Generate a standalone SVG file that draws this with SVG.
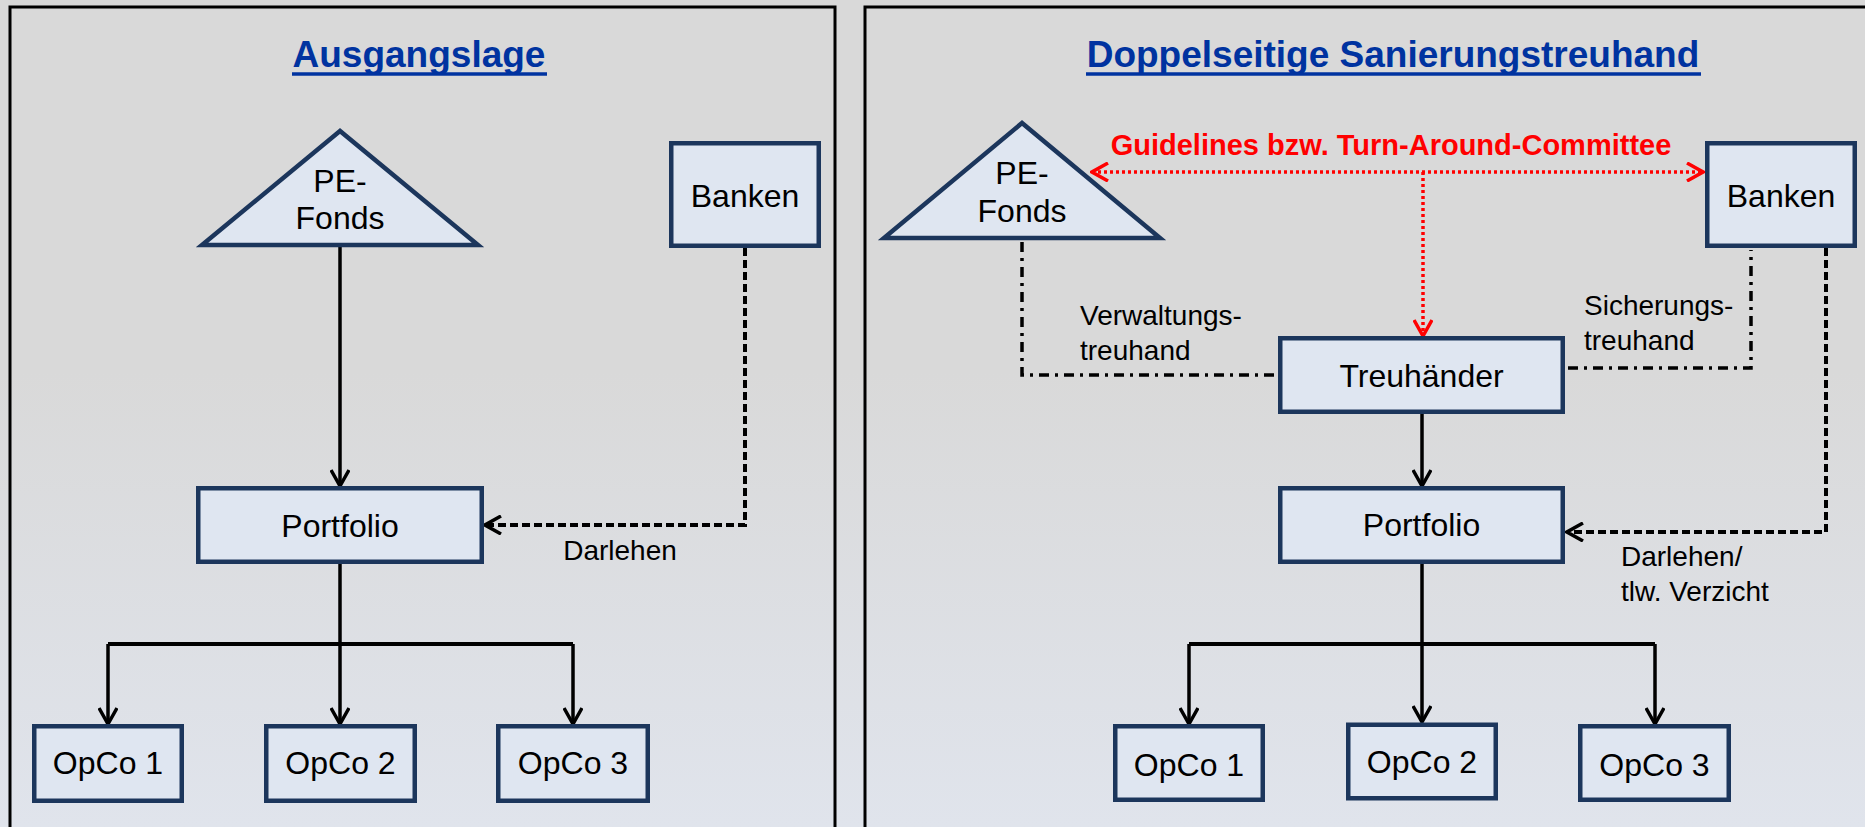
<svg xmlns="http://www.w3.org/2000/svg" width="1865" height="827" viewBox="0 0 1865 827">
<defs>
<linearGradient id="bg" x1="0" y1="0" x2="0" y2="1">
<stop offset="0" stop-color="#d9d9d9"/>
<stop offset="0.45" stop-color="#d9d9d9"/>
<stop offset="1" stop-color="#e0e4ec"/>
</linearGradient>
<marker id="arr" viewBox="0 0 20 20" markerWidth="20" markerHeight="20" markerUnits="userSpaceOnUse" refX="18" refY="10" orient="auto">
<path d="M2,1 L18,10 L2,19" fill="none" stroke="#000" stroke-width="3.5"/>
</marker>
<marker id="arrRed" viewBox="0 0 20 20" markerWidth="20" markerHeight="20" markerUnits="userSpaceOnUse" refX="18" refY="10" orient="auto-start-reverse">
<path d="M2,1 L18,10 L2,19" fill="none" stroke="#ff0000" stroke-width="3.5"/>
</marker>
</defs>
<style>
.panel{fill:none;stroke:#000;stroke-width:3}
.node{fill:#dfe6f1;stroke:#1c365c;stroke-width:4.5}
.lbl{font-family:"Liberation Sans",Arial,sans-serif;font-size:32px;fill:#000;text-anchor:middle}
.elbl{font-family:"Liberation Sans",Arial,sans-serif;font-size:28px;fill:#000}
.title{font-family:"Liberation Sans",Arial,sans-serif;font-size:37px;font-weight:bold;fill:#0033a0;text-anchor:middle}
.uline{stroke:#0033a0;stroke-width:3.5}
.red{font-family:"Liberation Sans",Arial,sans-serif;font-size:29px;font-weight:bold;fill:#ff0000;text-anchor:middle}
.solid{fill:none;stroke:#000;stroke-width:3.5}
.bar{fill:none;stroke:#000;stroke-width:4}
.dash{fill:none;stroke:#000;stroke-width:4;stroke-dasharray:8 4}
.dashdot{fill:none;stroke:#000;stroke-width:3.5;stroke-dasharray:10 6 3 6}
.dot{fill:none;stroke:#ff0000;stroke-width:3.5;stroke-dasharray:3 3}
</style>
<rect x="0" y="0" width="1865" height="827" fill="url(#bg)"/>
<rect class="panel" x="10" y="7" width="825" height="830"/>
<rect class="panel" x="865" y="7" width="1010" height="830"/>

<g id="title-left">
<text class="title" x="419" y="67">Ausgangslage</text>
<line class="uline" x1="292" y1="74" x2="547" y2="74"/>
</g>
<g id="title-right">
<text class="title" x="1393" y="67">Doppelseitige Sanierungstreuhand</text>
<line class="uline" x1="1086" y1="74" x2="1701" y2="74"/>
</g>

<g id="connectors">
<path class="solid" d="M340,247 L340,486" marker-end="url(#arr)"/>
<path class="dash" d="M745,248 L745,525 L485,525" marker-end="url(#arr)"/>
<path class="solid" d="M340,564 L340,644"/>
<path class="bar" d="M108,644 L573,644"/>
<path class="solid" d="M108,644 L108,724" marker-end="url(#arr)"/>
<path class="solid" d="M340,644 L340,724" marker-end="url(#arr)"/>
<path class="solid" d="M573,644 L573,724" marker-end="url(#arr)"/>
<path class="dot" d="M1092,172 L1703,172" marker-start="url(#arrRed)" marker-end="url(#arrRed)"/>
<path class="dot" d="M1423,172 L1423,336" marker-end="url(#arrRed)"/>
<path class="dashdot" d="M1022,242 L1022,375 L1276,375"/>
<path class="dashdot" d="M1568,368 L1751,368 L1751,250"/>
<path class="solid" d="M1422,414 L1422,486" marker-end="url(#arr)"/>
<path class="dash" d="M1826,248 L1826,532 L1567,532" marker-end="url(#arr)"/>
<path class="solid" d="M1422,564 L1422,644"/>
<path class="bar" d="M1189,644 L1655,644"/>
<path class="solid" d="M1189,644 L1189,724" marker-end="url(#arr)"/>
<path class="solid" d="M1422,644 L1422,722" marker-end="url(#arr)"/>
<path class="solid" d="M1655,644 L1655,724" marker-end="url(#arr)"/>
</g>

<g id="edge-labels">
<text class="elbl" x="620" y="560" text-anchor="middle">Darlehen</text>
<text class="red" x="1391" y="155">Guidelines bzw. Turn-Around-Committee</text>
<text class="elbl" x="1080" y="325">Verwaltungs-</text>
<text class="elbl" x="1080" y="360">treuhand</text>
<text class="elbl" x="1584" y="315">Sicherungs-</text>
<text class="elbl" x="1584" y="350">treuhand</text>
<text class="elbl" x="1621" y="566">Darlehen/</text>
<text class="elbl" x="1621" y="601">tlw. Verzicht</text>
</g>

<g id="pe-fonds-left">
<polygon class="node" points="340,131 202,245 478,245"/>
<text class="lbl" x="340" y="192">PE-</text>
<text class="lbl" x="340" y="229">Fonds</text>
</g>
<g id="banken-left">
<rect class="node" x="671.25" y="143.25" width="147.5" height="102.5"/>
<text class="lbl" x="745" y="207">Banken</text>
</g>
<g id="portfolio-left">
<rect class="node" x="198.25" y="488.25" width="283.5" height="73.5"/>
<text class="lbl" x="340" y="537">Portfolio</text>
</g>
<g id="opco1-left">
<rect class="node" x="34.25" y="726.25" width="147.5" height="74.5"/>
<text class="lbl" x="108" y="774">OpCo 1</text>
</g>
<g id="opco2-left">
<rect class="node" x="266.25" y="726.25" width="148.5" height="74.5"/>
<text class="lbl" x="340.5" y="774">OpCo 2</text>
</g>
<g id="opco3-left">
<rect class="node" x="498.25" y="726.25" width="149.5" height="74.5"/>
<text class="lbl" x="573" y="774">OpCo 3</text>
</g>

<g id="pe-fonds-right">
<polygon class="node" points="1022,123 884,238 1160,238"/>
<text class="lbl" x="1022" y="184">PE-</text>
<text class="lbl" x="1022" y="222">Fonds</text>
</g>
<g id="banken-right">
<rect class="node" x="1707.25" y="143.25" width="147.5" height="102.5"/>
<text class="lbl" x="1781" y="207">Banken</text>
</g>
<g id="treuhaender">
<rect class="node" x="1280.25" y="338.25" width="282.5" height="73.5"/>
<text class="lbl" x="1421.5" y="387">Treuhänder</text>
</g>
<g id="portfolio-right">
<rect class="node" x="1280.25" y="488.25" width="282.5" height="73.5"/>
<text class="lbl" x="1421.5" y="536">Portfolio</text>
</g>
<g id="opco1-right">
<rect class="node" x="1115.25" y="726.25" width="147.5" height="73.5"/>
<text class="lbl" x="1189" y="776">OpCo 1</text>
</g>
<g id="opco2-right">
<rect class="node" x="1348.25" y="724.75" width="147.5" height="73.5"/>
<text class="lbl" x="1422" y="773">OpCo 2</text>
</g>
<g id="opco3-right">
<rect class="node" x="1580.25" y="726.25" width="148.5" height="73.5"/>
<text class="lbl" x="1654.5" y="776">OpCo 3</text>
</g>
</svg>
